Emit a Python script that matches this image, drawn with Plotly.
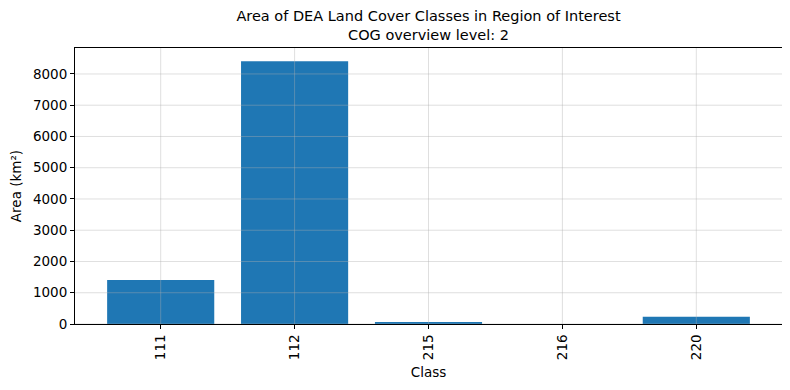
import plotly.graph_objects as go

classes = ["111", "112", "215", "216", "220"]
area_km2 = [1410, 8410, 65, 0.1, 232]
y_ticks = [0, 1000, 2000, 3000, 4000, 5000, 6000, 7000, 8000]

font = "DejaVu Sans"
grid_color = "rgba(176,176,176,0.5)"
fig = go.Figure(go.Bar(x=classes, y=area_km2, marker_color="#1f77b4",
                       marker_line_width=0, width=0.8))

ymax = max(area_km2) * 1.05

# grid lines drawn above the bars, as in the reference
shapes = []
for i, _c in enumerate(classes):
    shapes.append(dict(type="line", xref="x", yref="paper", x0=i, x1=i, y0=0, y1=1,
                       line=dict(color=grid_color, width=0.8), layer="above"))
for v in y_ticks:
    shapes.append(dict(type="line", xref="paper", yref="y", x0=0, x1=1, y0=v, y1=v,
                       line=dict(color=grid_color, width=0.8), layer="above"))

# page body adds an 8px offset; margins compensate for it
fig.update_layout(
    width=790, height=390,
    margin=dict(l=67, r=16, t=40, b=74),
    plot_bgcolor="white", paper_bgcolor="white",
    font=dict(family=font, size=13.5, color="black"),
    title=dict(text="Area of DEA Land Cover Classes in Region of Interest<br>COG overview level: 2",
               xref="paper", x=0.5, xanchor="center", y=0.967, yanchor="middle",
               font=dict(family=font, size=14.5, color="black")),
    showlegend=False,
    shapes=shapes,
)
fig.update_xaxes(
    type="category", range=[-0.64, 4.64], automargin=False,
    showline=True, linecolor="black", linewidth=1, mirror=True,
    ticks="outside", ticklen=4, tickcolor="black", tickangle=-90,
    showgrid=False, layer="above traces",
    title=dict(text="Class", font=dict(size=13.5), standoff=8),
    tickfont=dict(size=13.5),
)
fig.update_yaxes(
    range=[0, ymax], tickvals=y_ticks, ticktext=[str(v) for v in y_ticks],
    automargin=False,
    showline=True, linecolor="black", linewidth=1, mirror=True,
    ticks="outside", ticklen=4, tickcolor="black",
    showgrid=False, zeroline=False,
    layer="above traces",
    title=dict(text="Area (km²)", font=dict(size=13.5)),
    tickfont=dict(size=13.5),
)
fig.write_html("out.html")
